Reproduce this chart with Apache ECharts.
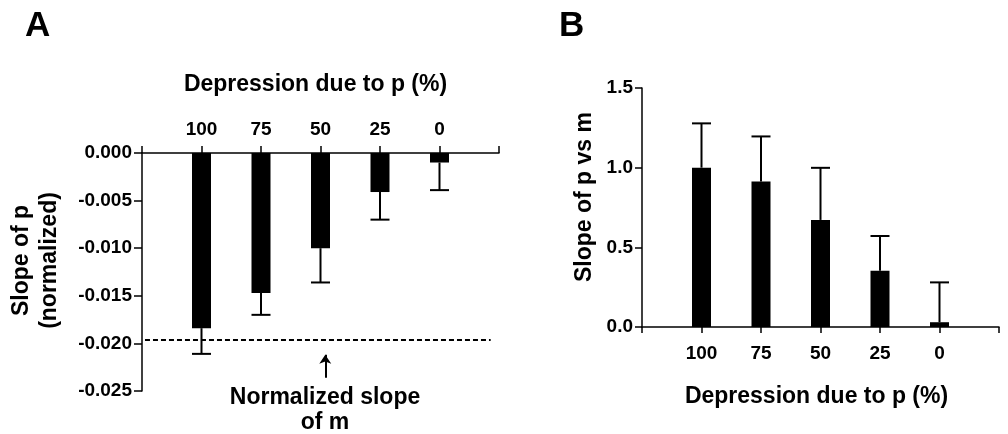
<!DOCTYPE html>
<html>
<head>
<meta charset="utf-8">
<script src="https://cdn.jsdelivr.net/npm/echarts@6/dist/echarts.min.js"></script>
<style>
  html, body { margin: 0; padding: 0; background: #fff; }
  #chart { width: 1008px; height: 434px; }
</style>
</head>
<body>
<div id="chart"></div>
<script>
// depression due to p (%), one bar per level
var categories = ["100", "75", "50", "25", "0"];
// panel A: slope of p (normalized) and its error
var slopeP = [-0.0184, -0.0147, -0.0100, -0.0041, -0.0010];
var slopePErr = [0.0027, 0.0023, 0.0036, 0.0029, 0.0029];
var normSlopeM = -0.01965;
// panel B: slope of p vs m and its error
var slopePvsM = [1.0, 0.913, 0.672, 0.353, 0.03];
var slopePvsMErr = [0.278, 0.283, 0.327, 0.218, 0.25];

var FONT = "'Liberation Sans', Arial, Helvetica, sans-serif";

function barData(vals) {
  return vals.map(function (v, i) { return [i + 1, v]; });
}
function errData(vals, errs) {
  return vals.map(function (v, i) {
    var end = v < 0 ? v - errs[i] : v + errs[i];
    return [i + 1, v, end];
  });
}
function renderErr(params, api) {
  var x = api.value(0);
  var p0 = api.coord([x, api.value(1)]);
  var p1 = api.coord([x, api.value(2)]);
  var hw = 9.5;
  var st = { stroke: "#000", lineWidth: 2 };
  return {
    type: "group",
    children: [
      { type: "line", shape: { x1: p0[0], y1: p0[1], x2: p1[0], y2: p1[1] }, style: st },
      { type: "line", shape: { x1: p1[0] - hw, y1: p1[1], x2: p1[0] + hw, y2: p1[1] }, style: st }
    ]
  };
}
function catLabel(v) {
  return categories[v - 1] || "";
}

var axisLineStyle = { color: "#000", width: 1.5 };
var labelStyle = { color: "#000", fontFamily: FONT, fontWeight: "bold", fontSize: 19 };
function nameStyle(pad) {
  return { color: "#000", fontFamily: FONT, fontWeight: "bold", fontSize: 23, lineHeight: 28, padding: pad };
}

var mychart = echarts.init(document.getElementById("chart"));
var option = {
  animation: false,
  backgroundColor: "#fff",
  grid: [
    { left: 142, top: 153, width: 357, height: 238 },
    { left: 642, top: 88, width: 357, height: 239 }
  ],
  xAxis: [
    {
      gridIndex: 0, type: "value", min: 0, max: 6, interval: 1, position: "top",
      axisLine: { lineStyle: axisLineStyle, onZero: false },
      axisTick: { show: true, length: 7, lineStyle: axisLineStyle },
      axisLabel: Object.assign({ margin: 14, formatter: catLabel }, labelStyle),
      splitLine: { show: false },
      name: "Depression due to p (%)", nameLocation: "middle", nameGap: 54,
      nameTextStyle: nameStyle([0, 10, 0, 0])
    },
    {
      gridIndex: 1, type: "value", min: 0, max: 6, interval: 1,
      axisLine: { lineStyle: axisLineStyle, onZero: false },
      axisTick: { show: true, length: 6, lineStyle: axisLineStyle },
      axisLabel: Object.assign({ margin: 17, formatter: catLabel }, labelStyle),
      splitLine: { show: false },
      name: "Depression due to p (%)", nameLocation: "middle", nameGap: 56,
      nameTextStyle: nameStyle([0, 8, 0, 0])
    }
  ],
  yAxis: [
    {
      gridIndex: 0, type: "value", min: -0.025, max: 0, interval: 0.005,
      axisLine: { show: true, lineStyle: axisLineStyle, onZero: false },
      axisTick: { show: true, length: 8, lineStyle: axisLineStyle },
      axisLabel: Object.assign({ margin: 10, formatter: function (v) { return v.toFixed(3); } }, labelStyle),
      splitLine: { show: false },
      name: "Slope of p\n(normalized)", nameLocation: "middle", nameGap: 78, nameRotate: 90,
      nameTextStyle: nameStyle([0, 0, 0, 23])
    },
    {
      gridIndex: 1, type: "value", min: 0, max: 1.5, interval: 0.5,
      axisLine: { show: true, lineStyle: axisLineStyle, onZero: false },
      axisTick: { show: true, length: 7, lineStyle: axisLineStyle },
      axisLabel: Object.assign({ margin: 9, formatter: function (v) { return v.toFixed(1); } }, labelStyle),
      splitLine: { show: false },
      name: "Slope of p vs m", nameLocation: "middle", nameGap: 43, nameRotate: 90,
      nameTextStyle: nameStyle([0, 0, 0, 21])
    }
  ],
  graphic: [
    { type: "text", left: 25, top: 9, style: { text: "A", fill: "#000", font: "bold 35px " + FONT } },
    { type: "text", left: 559, top: 9, style: { text: "B", fill: "#000", font: "bold 35px " + FONT } },
    { type: "text", x: 325, y: 398, style: { text: "Normalized slope", fill: "#000", font: "bold 23px " + FONT, textAlign: "center", textVerticalAlign: "middle" } },
    { type: "text", x: 325, y: 423, style: { text: "of m", fill: "#000", font: "bold 23px " + FONT, textAlign: "center", textVerticalAlign: "middle" } }
  ],
  series: [
    {
      type: "bar", xAxisIndex: 0, yAxisIndex: 0, barWidth: 19,
      itemStyle: { color: "#000" }, data: barData(slopeP)
    },
    {
      type: "custom", xAxisIndex: 0, yAxisIndex: 0, renderItem: renderErr,
      data: errData(slopeP, slopePErr), z: 3
    },
    {
      type: "line", xAxisIndex: 0, yAxisIndex: 0, symbol: "none",
      lineStyle: { color: "#000", width: 2, type: [5, 3] },
      data: [[0.05, normSlopeM], [5.86, normSlopeM]],
      markLine: {
        silent: true, symbol: ["none", "arrow"], symbolSize: 9,
        label: { show: false },
        lineStyle: { color: "#000", width: 2, type: "solid" },
        data: [[{ coord: [3.08, -0.0236] }, { coord: [3.08, -0.0212] }]]
      }
    },
    {
      type: "bar", xAxisIndex: 1, yAxisIndex: 1, barWidth: 19,
      itemStyle: { color: "#000" }, data: barData(slopePvsM)
    },
    {
      type: "custom", xAxisIndex: 1, yAxisIndex: 1, renderItem: renderErr,
      data: errData(slopePvsM, slopePvsMErr), z: 3
    }
  ]
};
mychart.setOption(option, true);
</script>
</body>
</html>
